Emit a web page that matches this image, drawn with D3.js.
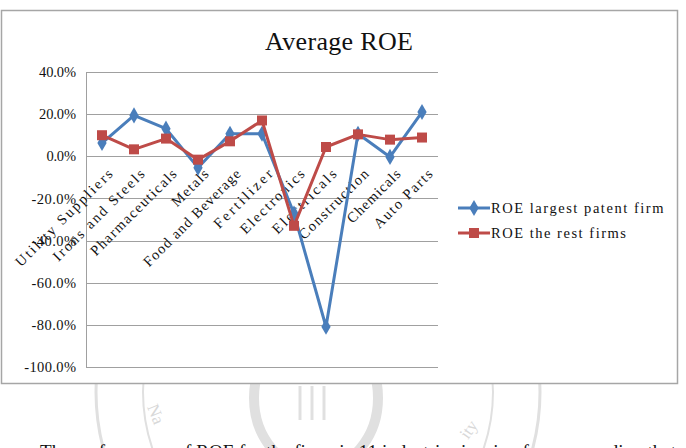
<!DOCTYPE html>
<html>
<head>
<meta charset="utf-8">
<script src="https://cdn.jsdelivr.net/npm/d3@7"></script>
<style>
  body { margin: 0; background: #fff; }
  svg { display: block; }
  text { font-family: "Liberation Serif", "DejaVu Serif", serif; fill: #111; }
</style>
</head>
<body>
<svg width="686" height="448"></svg>
<script>
const categories = ["Utility Suppliers", "Irons and Steels", "Pharmaceuticals", "Metals",
  "Food and Beverage", "Fertilizer", "Electronics", "Electricals", "Construction",
  "Chemicals", "Auto Parts"];
const roeLargest = [0.063, 0.194, 0.131, -0.054, 0.107, 0.107, -0.272, -0.809, 0.107, -0.003, 0.21];
const roeRest = [0.10, 0.033, 0.084, -0.016, 0.071, 0.17, -0.33, 0.044, 0.104, 0.079, 0.089];
const yTicks = [0.4, 0.2, 0, -0.2, -0.4, -0.6, -0.8, -1.0];
const seriesNames = ["ROE largest patent firm", "ROE the rest firms"];

const svg = d3.select("svg");
const blue = "#4a7ebb", red = "#be4b48";

// faint watermark seal behind the chart
const wm = svg.append("g").attr("fill", "none").attr("stroke", "#e0e0e0");
wm.append("circle").attr("cx", 318).attr("cy", 392).attr("r", 222).attr("stroke-width", 3);
wm.append("circle").attr("cx", 318).attr("cy", 392).attr("r", 175).attr("stroke-width", 2);
wm.append("ellipse").attr("cx", 316).attr("cy", 398).attr("rx", 62).attr("ry", 72).attr("stroke-width", 10);
[300, 312, 324].forEach(x => wm.append("line").attr("x1", x).attr("x2", x).attr("y1", 386).attr("y2", 420).attr("stroke-width", 3));
svg.append("text").attr("transform", "translate(147,407) rotate(68)").attr("font-size", 17)
  .style("fill", "#d8d8d8").text("Na");
svg.append("text").attr("transform", "translate(468,440) rotate(-55)").attr("font-size", 17)
  .style("fill", "#d8d8d8").text("ity");

// chart frame
svg.append("rect").attr("x", 1.5).attr("y", 10.5).attr("width", 676).attr("height", 373)
  .attr("fill", "#fff").attr("stroke", "#a6a6a6").attr("stroke-width", 1.5);

const x = d3.scaleBand().domain(categories).range([86, 438]);
const y = d3.scaleLinear().domain([-1, 0.4]).range([367, 72]);
const cx = d => x(d) + x.bandwidth() / 2;

// gridlines
svg.append("g").selectAll("line").data(yTicks).join("line")
  .attr("x1", 86).attr("x2", 438)
  .attr("y1", d => Math.round(y(d)) + 0.5).attr("y2", d => Math.round(y(d)) + 0.5)
  .attr("stroke", "#a0a0a0").attr("stroke-width", 1);
svg.append("line").attr("x1", 86.5).attr("x2", 86.5).attr("y1", y(0.4)).attr("y2", y(-1))
  .attr("stroke", "#a0a0a0");

// y tick labels
const fmt = d => (d * 100).toFixed(1) + "%";
svg.append("g").selectAll("text").data(yTicks).join("text")
  .attr("x", 76).attr("y", d => y(d)).attr("dy", "0.35em")
  .attr("text-anchor", "end").attr("font-size", 14.5)
  .attr("textLength", d => fmt(d).length * 7.4).attr("lengthAdjust", "spacing")
  .text(d => fmt(d));

// category labels
svg.append("g").selectAll("text").data(categories).join("text")
  .attr("transform", d => `translate(${cx(d) + 8},${y(0) + 15}) rotate(-45)`)
  .attr("text-anchor", "end").attr("dy", "0.35em").attr("font-size", 14.5)
  .attr("textLength", d => d.length * 7.7).attr("lengthAdjust", "spacing")
  .text(d => d);

// title
svg.append("text").attr("x", 339).attr("y", 50).attr("text-anchor", "middle")
  .attr("font-size", 26).attr("textLength", 148).attr("lengthAdjust", "spacing")
  .text("Average ROE");

const line = d3.line().x((d, i) => cx(categories[i])).y(d => y(d));
const diamond = d3.symbol().type(d3.symbolDiamond).size(75);
const square = d3.symbol().type(d3.symbolSquare).size(100);

svg.append("path").datum(roeLargest).attr("d", line)
  .attr("fill", "none").attr("stroke", blue).attr("stroke-width", 3).attr("stroke-linejoin", "round");
svg.append("g").selectAll("path").data(roeLargest).join("path")
  .attr("transform", (d, i) => `translate(${cx(categories[i])},${y(d)})`)
  .attr("d", diamond).attr("fill", blue);

svg.append("path").datum(roeRest).attr("d", line)
  .attr("fill", "none").attr("stroke", red).attr("stroke-width", 3).attr("stroke-linejoin", "round");
svg.append("g").selectAll("path").data(roeRest).join("path")
  .attr("transform", (d, i) => `translate(${cx(categories[i])},${y(d)})`)
  .attr("d", square).attr("fill", red);

// legend
const legend = svg.append("g").selectAll("g").data(seriesNames).join("g")
  .attr("transform", (d, i) => `translate(458,${208 + i * 25})`);
legend.append("line").attr("x1", 0).attr("x2", 32).attr("stroke-width", 3)
  .attr("stroke", (d, i) => i ? red : blue);
legend.append("path").attr("transform", "translate(16,0)")
  .attr("d", (d, i) => i ? square() : diamond()).attr("fill", (d, i) => i ? red : blue);
legend.append("text").attr("x", 33).attr("dy", "0.35em").attr("font-size", 14.5)
  .attr("textLength", d => d.length * 7.5).attr("lengthAdjust", "spacing")
  .text(d => d);

// body text cut off at the bottom of the page
svg.append("text").attr("x", 40).attr("y", 458).attr("font-size", 19)
  .attr("textLength", 636).attr("lengthAdjust", "spacing")
  .text("The performance of ROE for the firms in 11 industries is mix of corresponding that");
</script>
</body>
</html>
